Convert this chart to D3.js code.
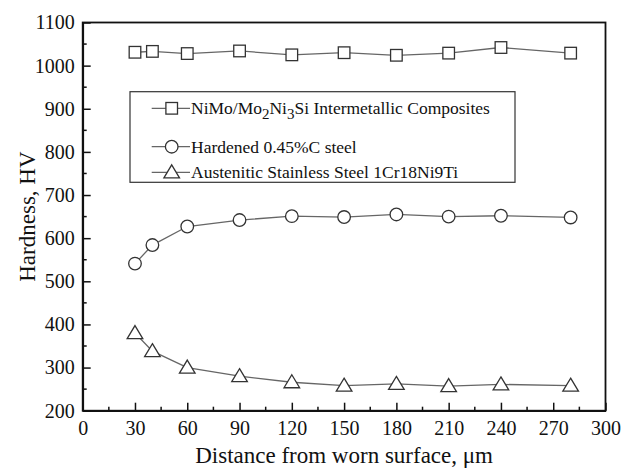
<!DOCTYPE html>
<html>
<head>
<meta charset="utf-8">
<script src="https://cdn.jsdelivr.net/npm/d3@7"></script>
<style>
body { margin: 0; background: #fff; }
text { font-family: "Liberation Serif", "DejaVu Serif", serif; fill: #111; }
</style>
</head>
<body>
<div id="chart"></div>
<script>
// distance from worn surface (um)
var distances = [30, 40, 60, 90, 120, 150, 180, 210, 240, 280];
var nimoValues = [1031, 1033, 1028, 1034, 1025, 1030, 1024, 1029, 1042, 1029];
var steelValues = [541, 584, 627, 642, 651, 649, 655, 650, 652, 648];
var austValues = [380, 338, 300, 280, 266, 258, 262, 257, 261, 258];

var xTicks = [0, 30, 60, 90, 120, 150, 180, 210, 240, 270, 300];
var yTicks = [200, 300, 400, 500, 600, 700, 800, 900, 1000, 1100];

var serif = "'Liberation Serif', 'DejaVu Serif', serif";

var margin = {top: 22.5, right: 16.5, bottom: 57.3, left: 82.7},
    width = 622 - margin.left - margin.right,
    height = 468 - margin.top - margin.bottom;

var svg = d3.select("#chart").append("svg")
    .attr("width", 622)
    .attr("height", 468)
  .append("g")
    .attr("transform", "translate(" + margin.left + "," + margin.top + ")");

var x = d3.scaleLinear().domain([0, 300]).range([0, width]);
var y = d3.scaleLinear().domain([200, 1100]).range([height, 0]);

// frame
svg.append("rect")
    .attr("x", 0).attr("y", 0)
    .attr("width", width).attr("height", height)
    .attr("fill", "none")
    .attr("stroke", "#111")
    .attr("stroke-width", 1.8);

// minor ticks (inward)
var xMinor = d3.range(15, 300, 30);
var yMinor = d3.range(250, 1100, 100);
svg.selectAll(".xminor").data(xMinor).enter().append("line")
    .attr("x1", function(d){ return x(d) }).attr("x2", function(d){ return x(d) })
    .attr("y1", height).attr("y2", height - 4)
    .attr("stroke", "#111").attr("stroke-width", 1.5);
svg.selectAll(".yminor").data(yMinor).enter().append("line")
    .attr("y1", function(d){ return y(d) }).attr("y2", function(d){ return y(d) })
    .attr("x1", 0).attr("x2", 4)
    .attr("stroke", "#111").attr("stroke-width", 1.5);

// axes
var xAxis = svg.append("g")
    .attr("transform", "translate(0," + height + ")")
    .call(d3.axisBottom(x).tickValues(xTicks).tickFormat(d3.format("d")).tickSize(-8).tickPadding(10).tickSizeOuter(0));
var yAxis = svg.append("g")
    .call(d3.axisLeft(y).tickValues(yTicks).tickFormat(d3.format("d")).tickSize(-8).tickPadding(8).tickSizeOuter(0));

[xAxis, yAxis].forEach(function(a){
  a.attr("font-family", serif).attr("font-size", 20);
  a.select(".domain").attr("stroke", "#111").attr("stroke-width", 1.8);
  a.selectAll(".tick line").attr("stroke", "#111").attr("stroke-width", 1.5);
  a.selectAll("text")
    .style("font-family", serif)
    .style("font-size", "20px")
    .attr("fill", "#111");
});

// axis titles
svg.append("text")
    .attr("x", width / 2)
    .attr("y", height + 52)
    .attr("text-anchor", "middle")
    .style("font-size", "23px")
    .text("Distance from worn surface, \u03bcm");
svg.append("text")
    .attr("transform", "translate(-48," + (height / 2) + ") rotate(-90)")
    .attr("text-anchor", "middle")
    .style("font-size", "23px")
    .text("Hardness, HV");

var lineColor = "#666", markColor = "#333";

function drawMarker(g, shape, cx, cy){
  if(shape == "square"){
    g.append("rect").attr("x", cx - 5.8).attr("y", cy - 5.8)
      .attr("width", 11.6).attr("height", 11.6)
      .attr("fill", "#fff").attr("stroke", markColor).attr("stroke-width", 1.3);
  }else if(shape == "circle"){
    g.append("circle").attr("cx", cx).attr("cy", cy).attr("r", 6.3)
      .attr("fill", "#fff").attr("stroke", markColor).attr("stroke-width", 1.3);
  }else{
    g.append("path")
      .attr("d", "M" + cx + "," + (cy - 7.5) + "L" + (cx + 7.8) + "," + (cy + 5.5) + "L" + (cx - 7.8) + "," + (cy + 5.5) + "Z")
      .attr("fill", "#fff").attr("stroke", markColor).attr("stroke-width", 1.3);
  }
}

var series = [
  {values: nimoValues, shape: "square"},
  {values: steelValues, shape: "circle"},
  {values: austValues, shape: "triangle"}
];

var line = d3.line()
    .x(function(d){ return x(d[0]) })
    .y(function(d){ return y(d[1]) });

series.forEach(function(s){
  var pts = distances.map(function(d, i){ return [d, s.values[i]] });
  svg.append("path")
    .attr("d", line(pts))
    .attr("fill", "none")
    .attr("stroke", lineColor)
    .attr("stroke-width", 1.3);
  var g = svg.append("g");
  pts.forEach(function(p){
    drawMarker(g, s.shape, x(p[0]), y(p[1]));
  });
});

// legend
var legend = svg.append("g").attr("transform", "translate(" + (130 - margin.left) + "," + (91.7 - margin.top) + ")");
legend.append("rect")
    .attr("x", 0).attr("y", 0).attr("width", 385).attr("height", 90.6)
    .attr("fill", "#fff").attr("stroke", "#333").attr("stroke-width", 1.2);

var legendRows = [
  {shape: "square", y: 16.6},
  {shape: "circle", y: 55},
  {shape: "triangle", y: 80.6}
];
legendRows.forEach(function(r){
  legend.append("line").attr("x1", 21.7).attr("x2", 60).attr("y1", r.y).attr("y2", r.y)
    .attr("stroke", lineColor).attr("stroke-width", 1.3);
  drawMarker(legend, r.shape, 41.7, r.y);
});

var t1 = legend.append("text").attr("x", 61).attr("y", 16.6).attr("dy", "0.35em").style("font-size", "17.5px");
t1.append("tspan").text("NiMo/Mo");
t1.append("tspan").attr("dy", 5).style("font-size", "15px").text("2");
t1.append("tspan").attr("dy", -5).text("Ni");
t1.append("tspan").attr("dy", 5).style("font-size", "15px").text("3");
t1.append("tspan").attr("dy", -5).text("Si Intermetallic Composites");

legend.append("text").attr("x", 61).attr("y", 55).attr("dy", "0.35em").style("font-size", "17.5px")
  .text("Hardened 0.45%C steel");
legend.append("text").attr("x", 61).attr("y", 80.6).attr("dy", "0.35em").style("font-size", "17.5px")
  .text("Austenitic Stainless Steel 1Cr18Ni9Ti");
</script>
</body>
</html>
